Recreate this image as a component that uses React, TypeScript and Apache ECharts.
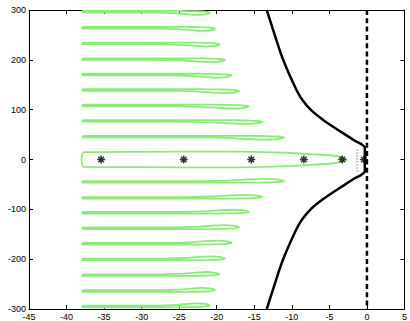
import React, { useEffect, useRef } from "react";
import * as echarts from "echarts";

// Axis ticks
const xTicks = [-45, -40, -35, -30, -25, -20, -15, -10, -5, 0, 5];
const yTicks = [-300, -200, -100, 0, 100, 200, 300];

// Green contour loops (band centre y, right end x), left end shared
const loopLeftX = -38;
const upperLoopY = [46, 77.5, 108.5, 139.5, 170.5, 201.5, 233, 264.5, 296.5];
const upperLoopRightX = [-11.0, -13.9, -15.7, -17.0, -18.0, -18.9, -19.6, -20.2, -20.9];
const lowerLoopY = [-45, -77, -107, -138, -169, -200.5, -232, -264, -295];
const lowerLoopRightX = [-11.0, -13.9, -15.7, -17.0, -18.0, -18.9, -19.6, -20.2, -20.9];

// Loop outline profile (fraction along loop, offsets in y units;
// negative inner offset points toward y = 0)
const loopProfileT = [0, 0.015, 0.3, 0.6, 0.72, 0.82, 0.9, 0.96, 1];
const loopOuterOffset = [0, 1.6, 1.6, 1.6, 1.6, 1.4, 1.0, 0.2, -1.5];
const loopInnerOffset = [0, -1.6, -1.6, -1.8, -2.8, -5.0, -6.2, -5.2, -1.5];

// Central loop (upper half; lower half mirrored)
const centralLoopX = [-38, -37.7, -30, -20, -15, -10, -7, -5, -3.5, -2.7];
const centralLoopY = [0, 14.8, 15.5, 15.7, 15.3, 13, 10.4, 8.5, 5.5, 0];

// Black boundary curve (upper half; lower half mirrored)
const curveX = [-13.34, -12.28, -11.16, -9.38, -8.59, -7.47, -5.82, -3.84, -1.79, -0.28];
const curveY = [300, 250, 200.3, 139.6, 119.5, 99.4, 79.3, 59.2, 39.2, 23.1];

// Dashed line x = 0
const dashedX = 0;

// Asterisk markers on y = 0
const starX = [-35.4, -24.4, -15.4, -8.4, -3.3, -0.4];
const starY = [0, 0, 0, 0, 0, 0];

// Grey dotted segment
const dottedX = [-1.3, -1.3];
const dottedY = [20, -24];

const GREEN = "#8CEB78";

function buildLoop(yc: number, xR: number): number[][] {
  const s = yc > 0 ? 1 : -1;
  const pts: number[][] = [];
  for (let i = 0; i < loopProfileT.length; i++) {
    const x = loopLeftX + loopProfileT[i] * (xR - loopLeftX);
    pts.push([x, yc + s * loopOuterOffset[i]]);
  }
  for (let i = loopProfileT.length - 2; i >= 0; i--) {
    const x = loopLeftX + loopProfileT[i] * (xR - loopLeftX);
    pts.push([x, yc + s * loopInnerOffset[i]]);
  }
  return pts;
}

export default function App() {
  const ref = useRef<HTMLDivElement>(null);
  useEffect(() => {
    if (!ref.current) return;
    const chart = echarts.init(ref.current, undefined, { renderer: "svg" });

    const series: any[] = [];
    const loops: number[][][] = [];
    upperLoopY.forEach((y, i) => loops.push(buildLoop(y, upperLoopRightX[i])));
    lowerLoopY.forEach((y, i) => loops.push(buildLoop(y, lowerLoopRightX[i])));
    const central: number[][] = [];
    for (let i = 0; i < centralLoopX.length; i++) central.push([centralLoopX[i], centralLoopY[i]]);
    for (let i = centralLoopX.length - 2; i >= 0; i--) central.push([centralLoopX[i], -centralLoopY[i]]);
    loops.push(central);

    loops.forEach((d) => {
      series.push({
        type: "line",
        data: d,
        showSymbol: false,
        smooth: 0.25,
        lineStyle: { color: GREEN, width: 1.8 },
        silent: true,
        z: 1,
      });
    });

    const curve: number[][] = [];
    for (let i = 0; i < curveX.length; i++) curve.push([curveX[i], curveY[i]]);
    for (let i = curveX.length - 1; i >= 0; i--) curve.push([curveX[i], -curveY[i]]);
    series.push({
      type: "line",
      data: curve,
      showSymbol: false,
      smooth: 0.3,
      lineStyle: { color: "#000", width: 2.5 },
      z: 3,
    });

    series.push({
      type: "line",
      data: [[dashedX, yTicks[yTicks.length - 1]], [dashedX, yTicks[0]]],
      showSymbol: false,
      lineStyle: { color: "#000", width: 2.5, type: [5, 3.3] },
      z: 3,
    });

    series.push({
      type: "line",
      data: [[dottedX[0], dottedY[0]], [dottedX[1], dottedY[1]]],
      showSymbol: false,
      lineStyle: { color: "#aaaaaa", width: 2.5, type: [1, 2] },
      z: 2,
    });

    series.push({
      type: "scatter",
      data: starX.map((x, i) => [x, starY[i]]),
      symbol: "path://M0,-5L0,5M-5,0L5,0M-3.5,-3.5L3.5,3.5M3.5,-3.5L-3.5,3.5",
      symbolSize: 8,
      itemStyle: { color: "transparent", borderColor: "#000", borderWidth: 1.5 },
      z: 5,
    });

    const axisCommon = {
      type: "value",
      splitLine: { show: false },
      axisLine: { show: true, onZero: false, lineStyle: { color: "#000", width: 1 } },
      axisTick: { show: true, inside: true, length: 4, lineStyle: { color: "#000", width: 1 } },
    };

    chart.setOption({
      animation: false,
      backgroundColor: "#fff",
      grid: { left: 29, top: 10, width: 379, height: 299 },
      xAxis: [
        {
          ...axisCommon,
          position: "bottom",
          min: xTicks[0],
          max: xTicks[xTicks.length - 1],
          interval: 5,
          axisLabel: { fontSize: 9, color: "#000", margin: 3, fontFamily: "Liberation Sans, Arial, sans-serif" },
        },
        {
          ...axisCommon,
          position: "top",
          min: xTicks[0],
          max: xTicks[xTicks.length - 1],
          interval: 5,
          axisLabel: { show: false },
        },
      ],
      yAxis: [
        {
          ...axisCommon,
          position: "left",
          min: yTicks[0],
          max: yTicks[yTicks.length - 1],
          interval: 100,
          axisLabel: { fontSize: 9, color: "#000", margin: 3, fontFamily: "Liberation Sans, Arial, sans-serif" },
        },
        {
          ...axisCommon,
          position: "right",
          min: yTicks[0],
          max: yTicks[yTicks.length - 1],
          interval: 100,
          axisLabel: { show: false },
        },
      ],
      series,
    });
    return () => chart.dispose();
  }, []);
  return <div ref={ref} style={{ position: "absolute", left: 0, top: 0, width: 410, height: 321 }} />;
}
